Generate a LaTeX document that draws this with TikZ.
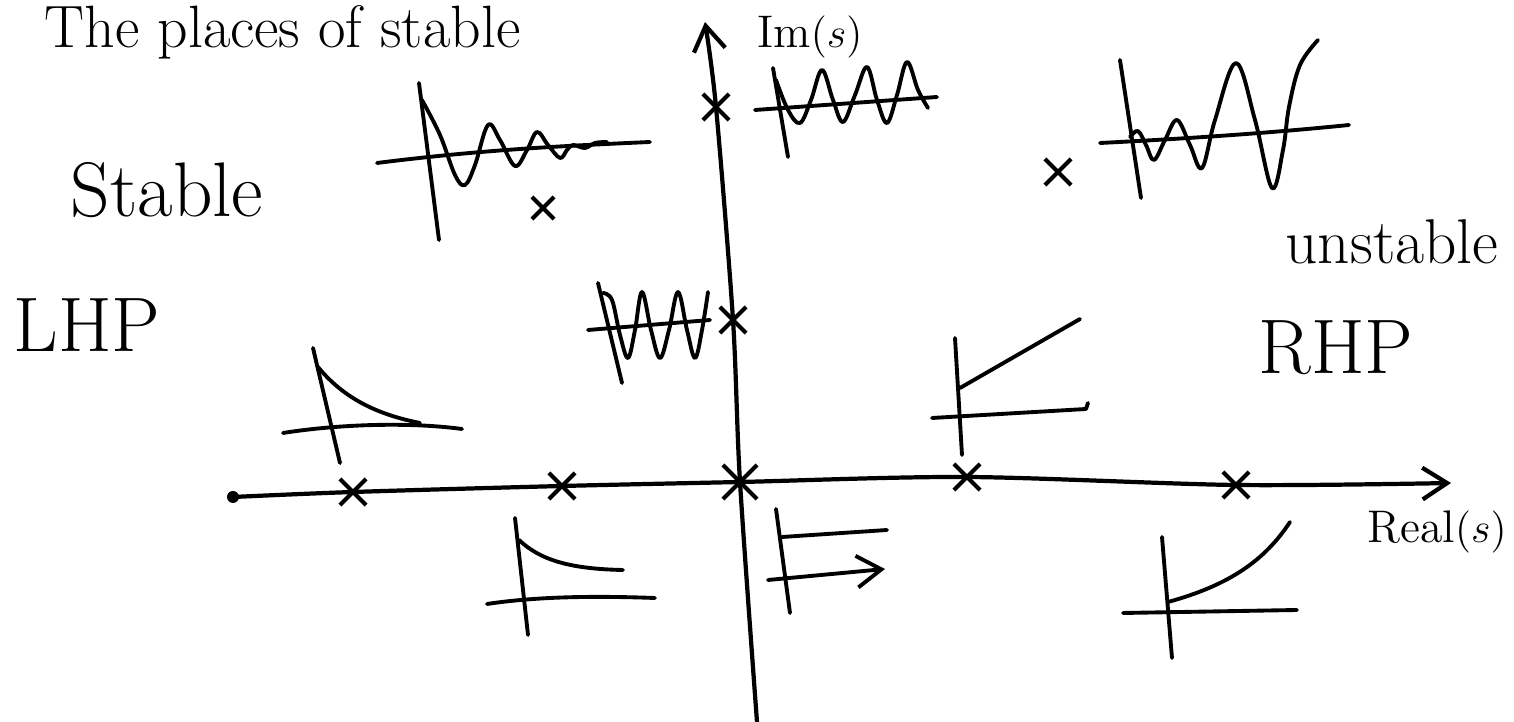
\documentclass[tikz,border=0pt]{standalone}
\usepackage{tikz}
\usetikzlibrary{arrows.meta, shapes.misc}

\begin{document}
\begin{tikzpicture}[x=0.01cm, y=-0.01cm, >={Straight Barb[length=7pt, width=9pt]},
        % Line Styles
        axis/.style={line width=1.2pt, line cap=round, line join=round},
        sketch/.style={line width=1.1pt, line cap=round, line join=round},
        pole/.style={cross out, draw, line width=1.2pt, minimum size=0.22cm, inner sep=0pt},
        % Text Styles
        hand/.style={inner sep=0pt},
        bigtext/.style={hand, font=\fontsize{22}{26}\selectfont},
        midtext/.style={hand, font=\fontsize{18}{22}\selectfont},
        smalltext/.style={hand, font=\fontsize{13}{16}\selectfont}
    ]
    \useasboundingbox (0,0) rectangle (1514,722);

    % --- 1. Poles ---
    \node[pole, minimum size=0.3cm] (p0) at (740,482) {};
    \node[pole] (pL1) at (353,492) {};
    \node[pole] (pL2) at (562,486) {};
    \node[pole] (pR1) at (967,477) {};
    \node[pole] (pR2) at (1236,485) {};
    \node[pole] (pIm1) at (733,320) {};
    \node[pole] (pIm2) at (716,107) {};
    \node[pole, minimum size=0.18cm] (pStab) at (543,208) {};
    \node[pole] (pUnst) at (1058,172) {};

    % --- 2. Axes ---
    \coordinate (reStart) at (233,497);
    \coordinate (reEnd) at (1451,483);
    \coordinate (imStart) at (757,722);
    \coordinate (imEnd) at (705,22);
    \draw[axis, ->] plot[smooth] coordinates {(reStart) (pL1) (pL2) (p0) (pR1) (pR2) (reEnd)};
    \fill (reStart) circle[radius=0.06cm];
    \draw[axis, ->] plot[smooth] coordinates {(imStart) (p0) (pIm1) (pIm2) (imEnd)};

    % --- 3. Labels ---
    \node[hand, font=\fontsize{17}{20}\selectfont, anchor=base west] (title) at (44,48) {The places of stable};
    \node[smalltext] (imlabel) at (810,37) {Im$(s)$};
    \node[smalltext] (relabel) at (1437,532) {Real$(s)$};
    \node[bigtext] (stable) at (167,190) {Stable};
    \node[bigtext] (lhp) at (87,325) {LHP};
    \node[midtext] (unstable) at (1392,242) {unstable};
    \node[bigtext] (rhp) at (1336,348) {RHP};

    % --- 4. Responses ---
    % Decaying oscillation (stable complex pole)
    \draw[sketch] (419,83) -- (439,240);
    \draw[sketch] (377,163) .. controls (480,150) and (560,146) .. (650,142);
    \draw[sketch] plot[smooth, tension=0.6] coordinates {(422,100) (440,135) (455,175) (465,185)
        (475,165) (488,125) (500,140) (515,166) (527,150) (537,132) (548,145) (560,158)
        (567,150) (573,145) (585,148) (595,143) (607,142)};

    % Sustained oscillation (upper imaginary pole)
    \draw[sketch] (773,68) -- (788,157);
    \draw[sketch] (755,110) -- (937,97);
    \draw[sketch] plot[smooth, tension=0.6] coordinates {(776,80) (788,110) (800,123) (811,100)
        (822,70) (833,100) (843,122) (855,95) (867,67) (877,100) (887,123) (897,95)
        (907,62) (918,90) (928,108)};

    % Growing oscillation (unstable complex pole)
    \draw[sketch] (1120,60) -- (1141,198);
    \draw[sketch] (1100,143) .. controls (1200,138) and (1280,132) .. (1349,125);
    \draw[sketch] plot[smooth, tension=0.6] coordinates {(1130,137) (1138,131) (1146,145)
        (1154,160) (1165,140) (1177,120) (1190,145) (1202,168) (1215,120) (1236,63)
        (1255,120) (1272,188) (1283,150) (1289,107) (1300,65) (1318,40)};

    % Fast sustained oscillation (lower imaginary pole)
    \draw[sketch] (598,283) -- (622,383);
    \draw[sketch] (588,330) -- (710,320);
    \draw[sketch] plot[smooth, tension=0.6] coordinates {(603,293) (612,300) (620,335) (628,358)
        (635,330) (642,292) (651,330) (660,358) (669,330) (678,292) (687,330) (695,358)
        (702,330) (708,292)};

    % Fast decay (far left real pole)
    \draw[sketch] (313,348) -- (340,463);
    \draw[sketch] (283,433) .. controls (340,424) and (410,422) .. (462,429);
    \draw[sketch] (318,367) .. controls (345,400) and (380,415) .. (420,423);

    % Slow decay (near left real pole)
    \draw[sketch] (515,518) -- (528,635);
    \draw[sketch] (487,604) .. controls (540,596) and (600,596) .. (655,598);
    \draw[sketch] (519,540) .. controls (540,560) and (570,569) .. (623,570);

    % Constant (pole at origin)
    \draw[sketch] (776,509) -- (790,613);
    \draw[sketch] (782,537) -- (887,530);
    \draw[sketch, ->] (768,580) -- (885,569);

    % Slow growth (near right real pole)
    \draw[sketch] (955,338) -- (962,455);
    \draw[sketch] (932,418) -- (1086,409) -- (1088,403);
    \draw[sketch] (960,388) -- (1080,319);

    % Fast growth (far right real pole)
    \draw[sketch] (1162,537) -- (1172,658);
    \draw[sketch] (1123,613) -- (1297,610);
    \draw[sketch] (1168,602) .. controls (1230,585) and (1265,560) .. (1290,522);

\end{tikzpicture}
\end{document}
